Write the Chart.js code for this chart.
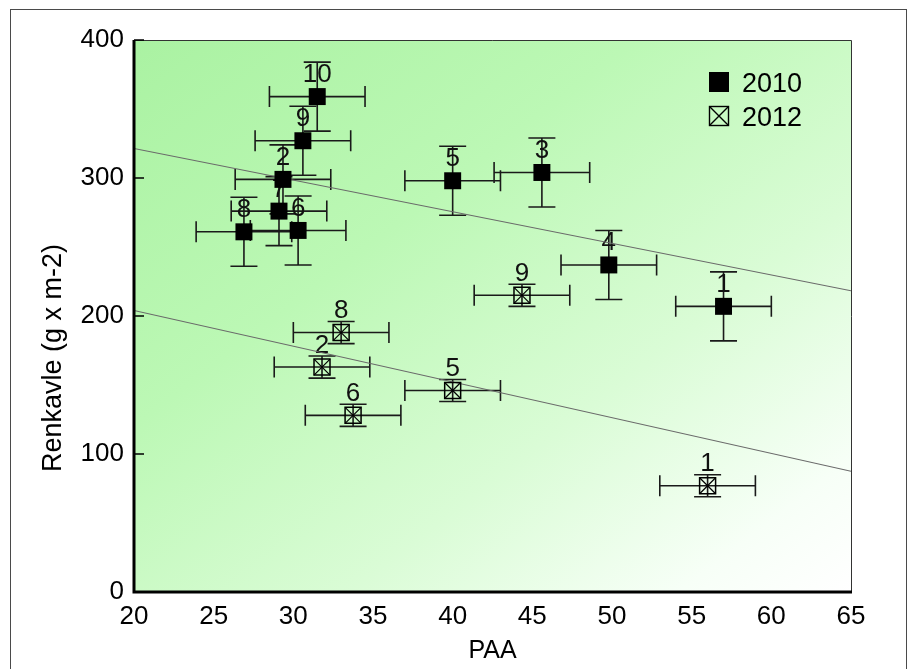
<!DOCTYPE html>
<html>
<head>
<meta charset="utf-8">
<title>Renkavle vs PAA</title>
<script src="https://cdn.jsdelivr.net/npm/chart.js@4.4.1/dist/chart.umd.min.js"></script>
<style>
  html, body { margin: 0; padding: 0; background: #fff; overflow: hidden; }
  #frame { position: absolute; left: 10px; top: 9px; width: 895px; height: 700px; border: 1px solid #4a4a4a; }
  #wrap { position: absolute; left: 0; top: 0; width: 909px; height: 669px; }
</style>
</head>
<body>
<div id="frame"></div>
<div id="wrap"><canvas id="chart"></canvas></div>
<script>
// 2010 (filled squares)
const ids2010 = ['1', '2', '3', '4', '5', '6', '7', '8', '9', '10'];
const paa2010 = [57.0, 29.35, 45.6, 49.8, 40.0, 30.3, 29.1, 26.9, 30.6, 31.5];
const ren2010 = [207, 299, 304, 237, 298, 262, 276, 261, 327, 359];
const paaErr2010 = [3.0, 3.0, 3.0, 3.0, 3.0, 3.0, 3.0, 3.0, 3.0, 3.0];
const renErr2010 = [25, 25, 25, 25, 25, 25, 25, 25, 25, 25];

// 2012 (crossed squares)
const ids2012 = ['1', '2', '5', '6', '8', '9'];
const paa2012 = [56.0, 31.8, 40.0, 33.75, 33.0, 44.35];
const ren2012 = [77, 163, 146, 128, 188, 215];
const paaErr2012 = [3.0, 3.0, 3.0, 3.0, 3.0, 3.0];
const renErr2012 = [8, 8, 8, 8, 8, 8];

// regression lines
const fitPaa = [20, 65];
const fit2010 = [321.4, 218.3];
const fit2012 = [204, 87.5];

const xTicks = [20, 25, 30, 35, 40, 45, 50, 55, 60, 65];
const yTicks = [0, 100, 200, 300, 400];

const family = "'Liberation Sans', Arial, sans-serif";

const series = [
    { ids: ids2010, paa: paa2010, ren: ren2010, ex: paaErr2010, ey: renErr2010 },
    { ids: ids2012, paa: paa2012, ren: ren2012, ex: paaErr2012, ey: renErr2012 }
];

function crossBox(ctx, cx, cy, half) {
    ctx.strokeRect(cx - half, cy - half, 2 * half, 2 * half);
    ctx.beginPath();
    ctx.moveTo(cx - half, cy - half); ctx.lineTo(cx + half, cy + half);
    ctx.moveTo(cx + half, cy - half); ctx.lineTo(cx - half, cy + half);
    ctx.stroke();
}

const extras = {
    id: 'extras',
    beforeDraw(chart) {
        const { ctx, chartArea: a } = chart;
        const w = a.right - a.left, h = a.bottom - a.top;
        const k = 2 * w * h / (w * w + h * h);
        const g = ctx.createLinearGradient(a.left, a.top, a.left + k * h, a.top + k * w);
        g.addColorStop(0, '#aaf2a2');
        g.addColorStop(0.35, '#bcf8b5');
        g.addColorStop(0.65, '#dafcd6');
        g.addColorStop(0.88, '#f7fff7');
        g.addColorStop(1, '#ffffff');
        ctx.save();
        ctx.fillStyle = g;
        ctx.fillRect(a.left, a.top, w, h);
        ctx.restore();
    },
    beforeDatasetsDraw(chart) {
        const { ctx, scales: { x, y } } = chart;
        ctx.save();
        ctx.strokeStyle = '#1a1a1a';
        ctx.lineWidth = 1.6;
        series.forEach(s => {
            s.paa.forEach((v, i) => {
                const px = x.getPixelForValue(v);
                const py = y.getPixelForValue(s.ren[i]);
                const x0 = x.getPixelForValue(v - s.ex[i]);
                const x1 = x.getPixelForValue(v + s.ex[i]);
                const y0 = y.getPixelForValue(s.ren[i] + s.ey[i]);
                const y1 = y.getPixelForValue(s.ren[i] - s.ey[i]);
                ctx.beginPath();
                ctx.moveTo(x0, py); ctx.lineTo(x1, py);
                ctx.moveTo(x0, py - 10.5); ctx.lineTo(x0, py + 10.5);
                ctx.moveTo(x1, py - 10.5); ctx.lineTo(x1, py + 10.5);
                ctx.moveTo(px, y0); ctx.lineTo(px, y1);
                ctx.moveTo(px - 13.5, y0); ctx.lineTo(px + 13.5, y0);
                ctx.moveTo(px - 13.5, y1); ctx.lineTo(px + 13.5, y1);
                ctx.stroke();
            });
        });
        // point numbers
        ctx.fillStyle = '#111';
        ctx.font = '26px ' + family;
        ctx.textAlign = 'center';
        ctx.textBaseline = 'alphabetic';
        series.forEach(s => {
            s.ids.forEach((t, i) => {
                const px = x.getPixelForValue(s.paa[i]);
                const py = y.getPixelForValue(s.ren[i]);
                ctx.fillText(t, px, py - 14.5);
            });
        });
        ctx.restore();
    },
    afterDatasetsDraw(chart) {
        // diagonal cross inside the 2012 squares
        const { ctx } = chart;
        ctx.save();
        ctx.strokeStyle = '#000';
        ctx.lineWidth = 1.2;
        chart.getDatasetMeta(1).data.forEach(pt => {
            ctx.beginPath();
            ctx.moveTo(pt.x - 8, pt.y - 8); ctx.lineTo(pt.x + 8, pt.y + 8);
            ctx.moveTo(pt.x + 8, pt.y - 8); ctx.lineTo(pt.x - 8, pt.y + 8);
            ctx.stroke();
        });
        ctx.restore();
    },
    afterDraw(chart) {
        const { ctx, chartArea: a, scales: { y } } = chart;
        ctx.save();
        // thin top/right frame
        ctx.strokeStyle = '#333';
        ctx.lineWidth = 1;
        ctx.beginPath();
        ctx.moveTo(a.left, a.top + 0.5); ctx.lineTo(a.right + 0.5, a.top + 0.5);
        ctx.lineTo(a.right + 0.5, a.bottom);
        ctx.stroke();
        // thick left/bottom axes
        ctx.strokeStyle = '#000';
        ctx.lineWidth = 3;
        ctx.beginPath();
        ctx.moveTo(a.left, a.top); ctx.lineTo(a.left, a.bottom);
        ctx.lineTo(a.right + 1, a.bottom);
        ctx.stroke();
        // inward y ticks
        ctx.lineWidth = 1.5;
        ctx.beginPath();
        yTicks.forEach(v => {
            const py = y.getPixelForValue(v);
            ctx.moveTo(a.left, py); ctx.lineTo(a.left + 10, py);
        });
        ctx.stroke();

        // legend
        const lx = a.right - 142, ly = a.top + 32;
        ctx.fillStyle = '#000';
        ctx.fillRect(lx, ly, 20, 20);
        ctx.lineWidth = 1.4;
        crossBox(ctx, lx + 10, ly + 44, 9.5);
        ctx.font = '27px ' + family;
        ctx.textAlign = 'left';
        ctx.textBaseline = 'alphabetic';
        ctx.fillText(chart.data.datasets[0].label, lx + 33, ly + 20);
        ctx.fillText(chart.data.datasets[1].label, lx + 33, ly + 54);

        // y axis title
        ctx.translate(61, a.top + 318);
        ctx.rotate(-Math.PI / 2);
        ctx.textAlign = 'center';
        ctx.font = '27px ' + family;
        ctx.fillText('Renkavle (g x m-2)', 0, 0);
        ctx.restore();
    }
};

new Chart(document.getElementById('chart'), {
    type: 'scatter',
    data: {
        datasets: [
            {
                label: '2010',
                data: paa2010.map((v, i) => ({ x: v, y: ren2010[i] })),
                pointStyle: 'rect',
                pointRadius: 12,
                backgroundColor: '#000',
                borderColor: '#000',
                borderWidth: 0
            },
            {
                label: '2012',
                data: paa2012.map((v, i) => ({ x: v, y: ren2012[i] })),
                pointStyle: 'rect',
                pointRadius: 11.3,
                backgroundColor: 'rgba(0,0,0,0)',
                borderColor: '#000',
                borderWidth: 1.5
            },
            {
                type: 'line',
                label: 'fit 2010',
                data: fitPaa.map((v, i) => ({ x: v, y: fit2010[i] })),
                borderColor: '#6a6a6a',
                borderWidth: 1.2,
                pointRadius: 0,
                fill: false
            },
            {
                type: 'line',
                label: 'fit 2012',
                data: fitPaa.map((v, i) => ({ x: v, y: fit2012[i] })),
                borderColor: '#6a6a6a',
                borderWidth: 1.2,
                pointRadius: 0,
                fill: false
            }
        ]
    },
    options: {
        responsive: true,
        maintainAspectRatio: false,
        animation: false,
        events: [],
        layout: { padding: { left: 0, top: 40, right: 58, bottom: 0 } },
        plugins: {
            legend: { display: false },
            tooltip: { enabled: false }
        },
        scales: {
            x: {
                type: 'linear',
                min: xTicks[0],
                max: xTicks[xTicks.length - 1],
                afterBuildTicks: s => { s.ticks = xTicks.map(v => ({ value: v })); },
                ticks: { padding: 9, color: '#000', font: { family: family, size: 26 } },
                grid: { display: false, drawTicks: false },
                border: { display: false },
                title: {
                    display: true,
                    text: 'PAA',
                    color: '#000',
                    font: { family: family, size: 25 },
                    padding: { top: 0, bottom: 3 }
                },
                afterFit: s => { s.height = 77; s.paddingLeft = 0; s.paddingRight = 0; }
            },
            y: {
                type: 'linear',
                min: yTicks[0],
                max: yTicks[yTicks.length - 1],
                afterBuildTicks: s => { s.ticks = yTicks.map(v => ({ value: v })); },
                ticks: { padding: 10, color: '#000', font: { family: family, size: 26 } },
                grid: { display: false, drawTicks: false },
                border: { display: false },
                afterFit: s => { s.width = 134; s.paddingTop = 0; s.paddingBottom = 0; }
            }
        }
    },
    plugins: [extras]
});
</script>
</body>
</html>
